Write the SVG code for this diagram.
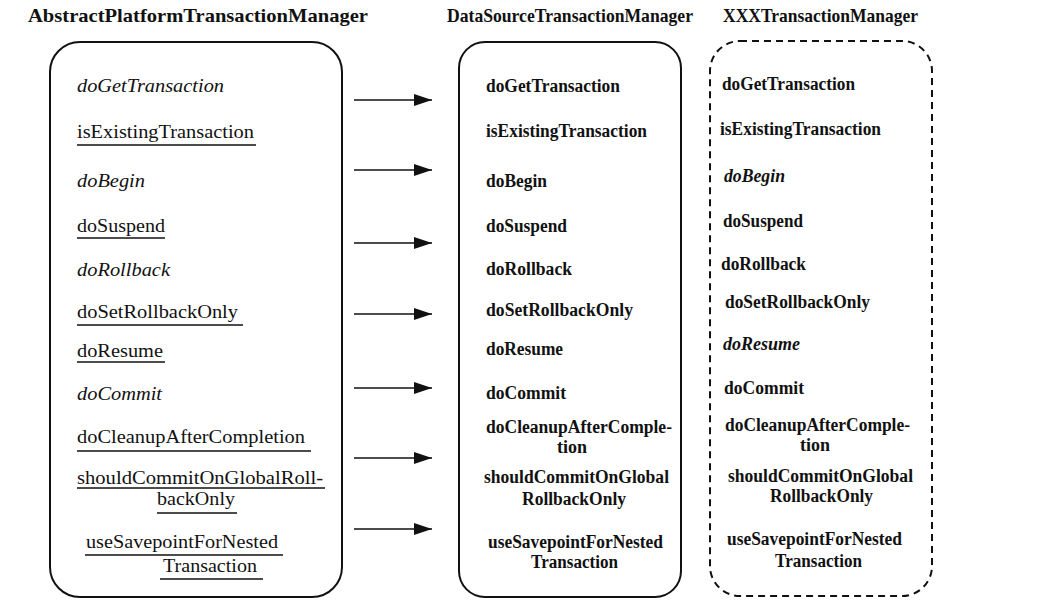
<svg xmlns="http://www.w3.org/2000/svg" width="1047" height="607" viewBox="0 0 1047 607">
<defs>
<style>
text{font-family:"Liberation Serif","Times New Roman",serif;fill:#111}
.t{font-size:19px;font-weight:bold}
.r{font-size:18.5px}
.i{font-size:18.5px;font-style:italic}
.b{font-size:18px;font-weight:bold}
.bi{font-size:18px;font-weight:bold;font-style:italic}
.box{fill:none;stroke:#111;stroke-width:2}
.dash{fill:none;stroke:#111;stroke-width:2;stroke-dasharray:7 5}
.ul{stroke:#111;stroke-width:1.4}
.conn{stroke:#111;stroke-width:1.6;fill:none}
</style>
<marker id="ah" viewBox="0 0 18 12" refX="18" refY="6" markerWidth="18" markerHeight="12" markerUnits="userSpaceOnUse" orient="auto">
<path d="M0,0 L18,6 L0,12 Z" fill="#111"/>
</marker>
</defs>
<rect width="1047" height="607" fill="#fff"/>

<g id="node-abstract">
<text class="t" x="28" y="22" textLength="340" lengthAdjust="spacingAndGlyphs">AbstractPlatformTransactionManager</text>
<rect class="box" x="50" y="42" width="292" height="555" rx="30" ry="30"/>
<text class="i" x="77" y="92" textLength="147" lengthAdjust="spacingAndGlyphs">doGetTransaction</text>
<text class="r" x="77" y="138" textLength="177" lengthAdjust="spacingAndGlyphs">isExistingTransaction</text>
<line class="ul" x1="77" y1="145" x2="256" y2="145"/>
<text class="i" x="77" y="187" textLength="68" lengthAdjust="spacingAndGlyphs">doBegin</text>
<text class="r" x="77" y="232" textLength="88" lengthAdjust="spacingAndGlyphs">doSuspend</text>
<line class="ul" x1="77" y1="238" x2="165" y2="238"/>
<text class="i" x="77" y="276" textLength="93" lengthAdjust="spacingAndGlyphs">doRollback</text>
<text class="r" x="77" y="318" textLength="161" lengthAdjust="spacingAndGlyphs">doSetRollbackOnly</text>
<line class="ul" x1="77" y1="325" x2="243" y2="325"/>
<text class="r" x="77" y="357" textLength="86" lengthAdjust="spacingAndGlyphs">doResume</text>
<line class="ul" x1="77" y1="362" x2="165" y2="362"/>
<text class="i" x="77" y="400" textLength="85" lengthAdjust="spacingAndGlyphs">doCommit</text>
<text class="r" x="77" y="443" textLength="228" lengthAdjust="spacingAndGlyphs">doCleanupAfterCompletion</text>
<line class="ul" x1="77" y1="451" x2="311" y2="451"/>
<text class="r" x="77" y="484" textLength="246" lengthAdjust="spacingAndGlyphs">shouldCommitOnGlobalRoll-</text>
<line class="ul" x1="77" y1="488" x2="325" y2="488"/>
<text class="r" x="157" y="505" textLength="78" lengthAdjust="spacingAndGlyphs">backOnly</text>
<line class="ul" x1="157" y1="513" x2="237" y2="513"/>
<text class="r" x="86" y="548" textLength="192" lengthAdjust="spacingAndGlyphs">useSavepointForNested</text>
<line class="ul" x1="85" y1="555" x2="283" y2="555"/>
<text class="r" x="163" y="572" textLength="94" lengthAdjust="spacingAndGlyphs">Transaction</text>
<line class="ul" x1="160" y1="579" x2="263" y2="579"/>
</g>

<g id="node-datasource">
<text class="t" x="447" y="22" textLength="246" lengthAdjust="spacingAndGlyphs">DataSourceTransactionManager</text>
<rect class="box" x="459" y="42" width="222" height="555" rx="26" ry="26"/>
<text class="b" x="486" y="92" textLength="134" lengthAdjust="spacingAndGlyphs">doGetTransaction</text>
<text class="b" x="486" y="137" textLength="161" lengthAdjust="spacingAndGlyphs">isExistingTransaction</text>
<text class="b" x="486" y="187" textLength="61" lengthAdjust="spacingAndGlyphs">doBegin</text>
<text class="b" x="486" y="232" textLength="81" lengthAdjust="spacingAndGlyphs">doSuspend</text>
<text class="b" x="486" y="275" textLength="86" lengthAdjust="spacingAndGlyphs">doRollback</text>
<text class="b" x="486" y="316" textLength="147" lengthAdjust="spacingAndGlyphs">doSetRollbackOnly</text>
<text class="b" x="486" y="355" textLength="77" lengthAdjust="spacingAndGlyphs">doResume</text>
<text class="b" x="486" y="399" textLength="80" lengthAdjust="spacingAndGlyphs">doCommit</text>
<text class="b" x="486" y="433" textLength="186" lengthAdjust="spacingAndGlyphs">doCleanupAfterComple-</text>
<text class="b" x="572" y="453" text-anchor="middle">tion</text>
<text class="b" x="484" y="483" textLength="185" lengthAdjust="spacingAndGlyphs">shouldCommitOnGlobal</text>
<text class="b" x="522" y="505" textLength="104" lengthAdjust="spacingAndGlyphs">RollbackOnly</text>
<text class="b" x="488" y="548" textLength="175" lengthAdjust="spacingAndGlyphs">useSavepointForNested</text>
<text class="b" x="531" y="568" textLength="87" lengthAdjust="spacingAndGlyphs">Transaction</text>
</g>

<g id="node-xxx">
<text class="t" x="723" y="22" textLength="195" lengthAdjust="spacingAndGlyphs">XXXTransactionManager</text>
<rect class="dash" x="710" y="41" width="222" height="555" rx="30" ry="30"/>
<text class="b" x="722" y="90" textLength="133" lengthAdjust="spacingAndGlyphs">doGetTransaction</text>
<text class="b" x="720" y="135" textLength="161" lengthAdjust="spacingAndGlyphs">isExistingTransaction</text>
<text class="bi" x="724" y="182" textLength="61" lengthAdjust="spacingAndGlyphs">doBegin</text>
<text class="b" x="723" y="227" textLength="80" lengthAdjust="spacingAndGlyphs">doSuspend</text>
<text class="b" x="721" y="270" textLength="85" lengthAdjust="spacingAndGlyphs">doRollback</text>
<text class="b" x="725" y="308" textLength="145" lengthAdjust="spacingAndGlyphs">doSetRollbackOnly</text>
<text class="bi" x="723" y="350" textLength="77" lengthAdjust="spacingAndGlyphs">doResume</text>
<text class="b" x="724" y="394" textLength="80" lengthAdjust="spacingAndGlyphs">doCommit</text>
<text class="b" x="725" y="431" textLength="185" lengthAdjust="spacingAndGlyphs">doCleanupAfterComple-</text>
<text class="b" x="815" y="451" text-anchor="middle">tion</text>
<text class="b" x="728" y="482" textLength="185" lengthAdjust="spacingAndGlyphs">shouldCommitOnGlobal</text>
<text class="b" x="770" y="502" textLength="103" lengthAdjust="spacingAndGlyphs">RollbackOnly</text>
<text class="b" x="727" y="545" textLength="175" lengthAdjust="spacingAndGlyphs">useSavepointForNested</text>
<text class="b" x="775" y="567" textLength="87" lengthAdjust="spacingAndGlyphs">Transaction</text>
</g>

<g id="connectors">
<line class="conn" x1="354" y1="100" x2="432" y2="100" marker-end="url(#ah)"/>
<line class="conn" x1="354" y1="170" x2="432" y2="170" marker-end="url(#ah)"/>
<line class="conn" x1="354" y1="243" x2="432" y2="243" marker-end="url(#ah)"/>
<line class="conn" x1="354" y1="314" x2="432" y2="314" marker-end="url(#ah)"/>
<line class="conn" x1="354" y1="388" x2="432" y2="388" marker-end="url(#ah)"/>
<line class="conn" x1="354" y1="458" x2="432" y2="458" marker-end="url(#ah)"/>
<line class="conn" x1="354" y1="529" x2="432" y2="529" marker-end="url(#ah)"/>
</g>
</svg>
